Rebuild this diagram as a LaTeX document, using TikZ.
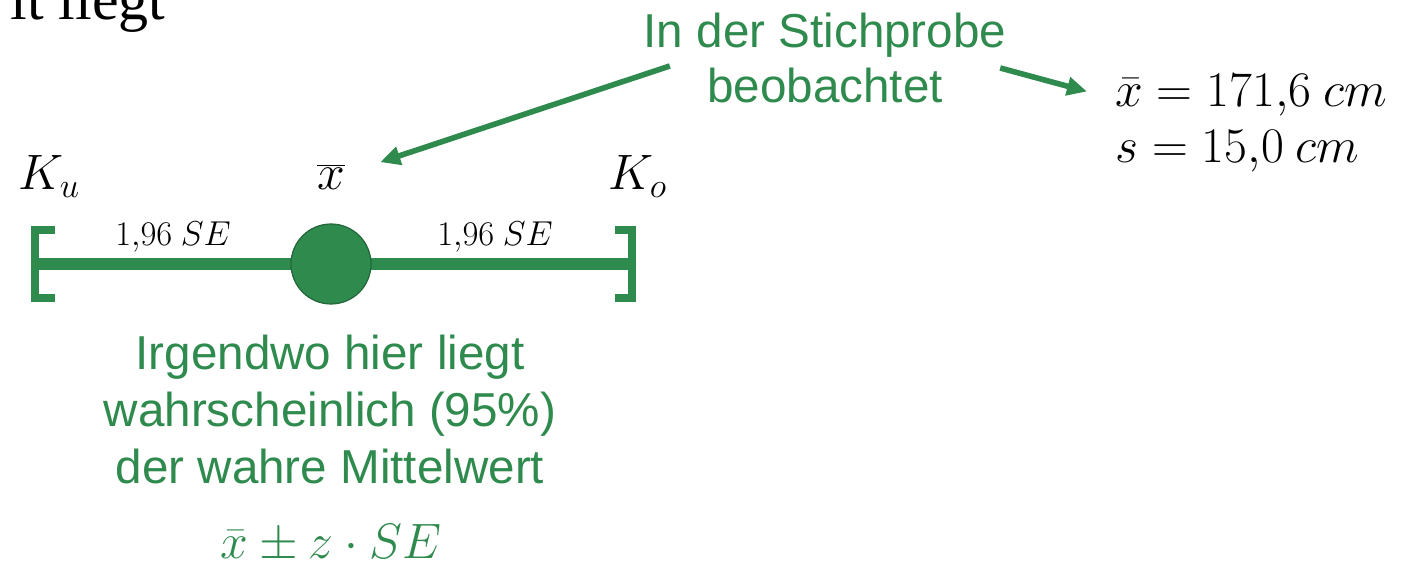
\documentclass[tikz,border=0pt]{standalone}
\usepackage{fontspec}
\setmainfont{Liberation Serif}
\newfontfamily\notefont{Liberation Sans}
\usetikzlibrary{positioning, arrows.meta, calc}
\definecolor{ciGreen}{HTML}{2F8A4E}
\definecolor{ciGreenDark}{HTML}{23663A}
\tikzset{
  note/.style    = {text=ciGreen, inner sep=0pt, align=center,
                    font=\notefont\fontsize{23.8}{28.5}\selectfont},
  mlab/.style    = {inner sep=0pt, font=\fontsize{23.5}{28}\selectfont},
  slab/.style    = {inner sep=0pt, font=\fontsize{17}{20}\selectfont},
  dot/.style     = {circle, fill=ciGreen, draw=ciGreenDark, line width=0.6pt,
                    minimum size=40pt, inner sep=0pt},
  ci/.style      = {line width=6pt, draw=ciGreen},
  brk/.style     = {line width=4pt, draw=ciGreen, miter limit=10},
  arr/.style     = {-{Triangle[length=10pt,width=9pt]}, line width=2.8pt, draw=ciGreen},
}

\begin{document}
\begin{tikzpicture}[x=0.5pt, y=-0.5pt]
  \useasboundingbox (0,0) rectangle (1401,565);

  % rest of the slide title
  \node[inner sep=0pt, anchor=base east, font=\fontsize{30}{36}\selectfont] (head) at (166,20) {it liegt};

  % confidence interval
  \coordinate (lo) at (35,264);
  \coordinate (hi) at (632,264);
  \draw[ci] (lo) -- (hi);
  \draw[brk] ($(lo)+(20,-34)$) -- ($(lo)+(0,-34)$) -- ($(lo)+(0,34)$) -- ($(lo)+(20,34)$);
  \draw[brk] ($(hi)+(-17,-34)$) -- ($(hi)+(0,-34)$) -- ($(hi)+(0,34)$) -- ($(hi)+(-17,34)$);
  \node[dot] (xbar) at (331,264) {};

  \node[mlab, anchor=base] (xlab) at (331,190) {$\overline{x}$};
  \node[mlab, anchor=base west] (ku) at (18,190) {$K_u$};
  \node[mlab, anchor=base west] (ko) at (608,190) {$K_o$};
  \node[slab, anchor=base] (seL) at (173,246) {$1{,}96\ SE$};
  \node[slab, anchor=base] (seR) at (495,246) {$1{,}96\ SE$};

  % sample values
  \node[note, anchor=base] (obs1) at (825,48) {In der Stichprobe};
  \node[note, anchor=base] (obs2) at (825,103) {beobachtet};
  \node[inner sep=0pt, anchor=base west, align=left, font=\fontsize{23.5}{28}\selectfont] (stats) at (1115,163)
       {$\bar{x} = 171{,}6\ cm$\\ $s = 15{,}0\ cm$};

  \draw[arr] ($(obs2.west)+(-37,-20)$) -- ($(xlab.north east)+(35,-2)$);
  \draw[arr] ($(obs2.east)+(57,-18)$) -- ($(stats.north west)+(-28,17)$);

  % interpretation
  \node[note, anchor=north] (hint) at (330,335)
       {Irgendwo hier liegt\\ wahrscheinlich (95\%)\\ der wahre Mittelwert};
  \node[mlab, text=ciGreen, anchor=base, font=\fontsize{23}{27}\selectfont] (formula) at (331,559) {$\bar{x} \pm z \cdot SE$};
\end{tikzpicture}
\end{document}
